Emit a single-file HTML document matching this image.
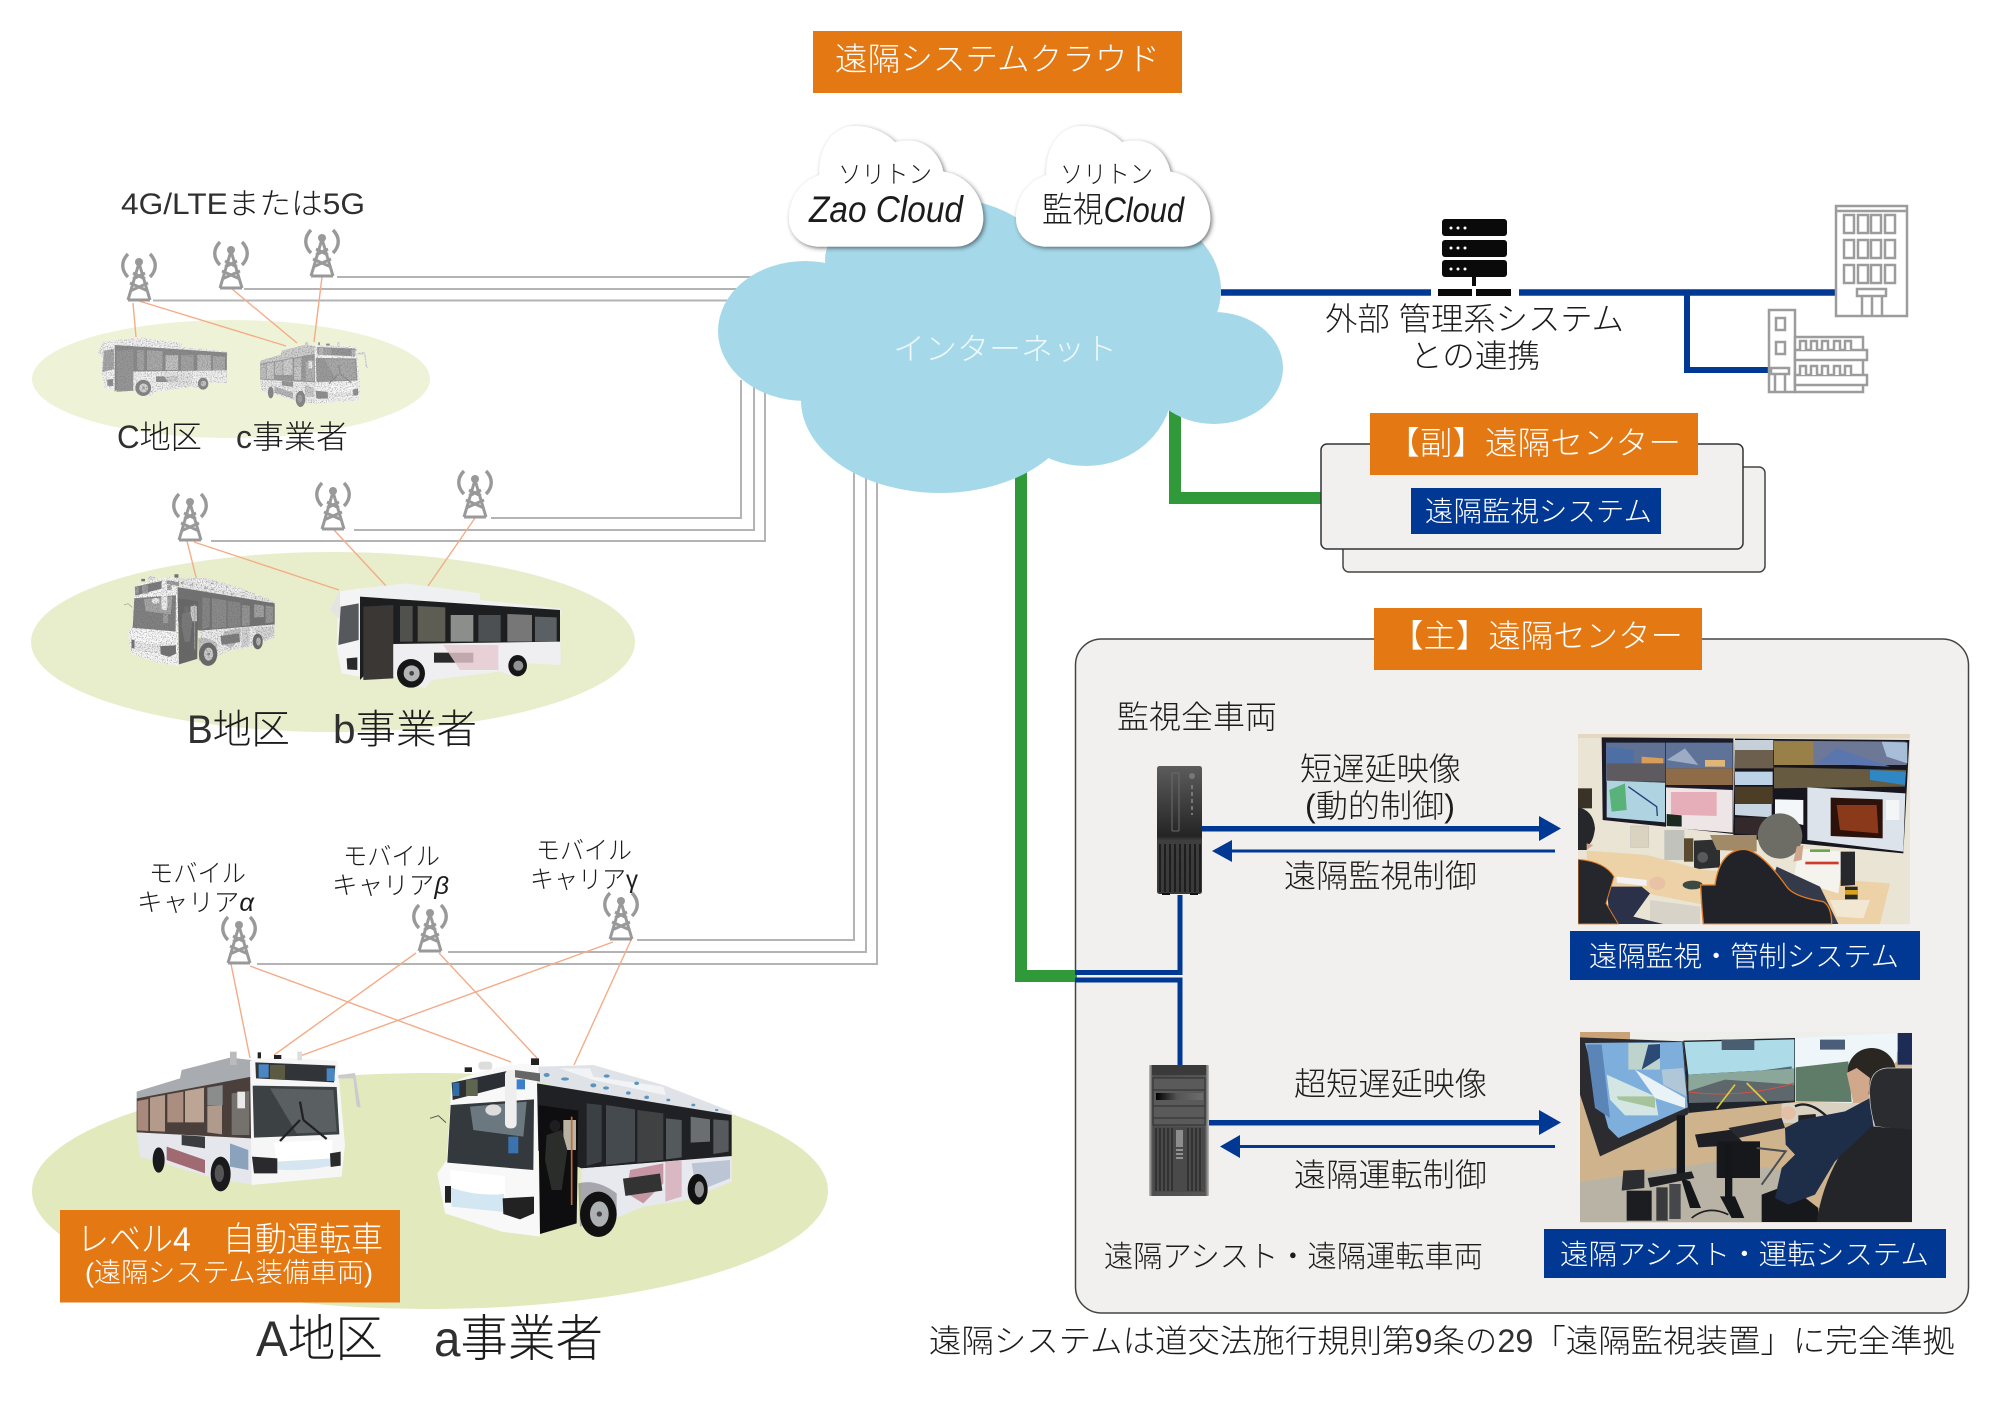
<!DOCTYPE html>
<html lang="ja"><head><meta charset="utf-8"><title>遠隔システム</title>
<style>
html,body{margin:0;padding:0;background:#fff}
svg{display:block}
text{font-family:"Liberation Sans","Noto Sans CJK JP",sans-serif;font-weight:300;fill:#1c1c1c}
.w{fill:#fff}
.l{fill:#303030}
</style></head><body>
<svg xmlns="http://www.w3.org/2000/svg" width="2000" height="1403" viewBox="0 0 2000 1403">
<defs>
<filter id="sh" x="-10%" y="-10%" width="125%" height="125%"><feDropShadow dx="5" dy="5" stdDeviation="6" flood-color="#333" flood-opacity=".65"/></filter>
<filter id="skB" x="0" y="0" width="100%" height="100%" color-interpolation-filters="sRGB">
<feColorMatrix in="SourceGraphic" type="saturate" values="0"/>
<feComponentTransfer result="g"><feFuncR type="linear" slope=".62" intercept=".37"/><feFuncG type="linear" slope=".62" intercept=".37"/><feFuncB type="linear" slope=".62" intercept=".37"/></feComponentTransfer>
<feTurbulence type="fractalNoise" baseFrequency=".8" numOctaves="2" seed="3"/>
<feColorMatrix type="matrix" values="0 0 0 0 .4 0 0 0 0 .4 0 0 0 0 .4 0 0 0 2 -.95"/>
<feComposite in2="SourceAlpha" operator="in" result="d"/>
<feMerge><feMergeNode in="g"/><feMergeNode in="d"/></feMerge>
</filter>
<filter id="skC" x="0" y="0" width="100%" height="100%" color-interpolation-filters="sRGB">
<feColorMatrix in="SourceGraphic" type="saturate" values="0"/>
<feComponentTransfer result="g"><feFuncR type="linear" slope=".5" intercept=".48"/><feFuncG type="linear" slope=".5" intercept=".48"/><feFuncB type="linear" slope=".5" intercept=".48"/></feComponentTransfer>
<feTurbulence type="fractalNoise" baseFrequency=".8" numOctaves="2" seed="7"/>
<feColorMatrix type="matrix" values="0 0 0 0 .45 0 0 0 0 .45 0 0 0 0 .45 0 0 0 2 -.95"/>
<feComposite in2="SourceAlpha" operator="in" result="d"/>
<feMerge><feMergeNode in="g"/><feMergeNode in="d"/></feMerge>
</filter>
<linearGradient id="pc1" x1="0" y1="0" x2="0" y2="1"><stop offset="0" stop-color="#5c5c5c"/><stop offset=".55" stop-color="#242424"/><stop offset=".58" stop-color="#3e3e3e"/><stop offset="1" stop-color="#3a3a3a"/></linearGradient>
<linearGradient id="pc2" x1="0" y1="0" x2="1" y2="0"><stop offset="0" stop-color="#bdbdbd"/><stop offset=".06" stop-color="#4e4e4e"/><stop offset=".94" stop-color="#565656"/><stop offset="1" stop-color="#bdbdbd"/></linearGradient>
<linearGradient id="drv" x1="0" y1="0" x2="1" y2="0"><stop offset="0" stop-color="#000"/><stop offset=".45" stop-color="#555"/><stop offset="1" stop-color="#6c6c6c"/></linearGradient>
<clipPath id="c1"><rect x="24" y="12" width="996" height="571"/></clipPath>
<clipPath id="c2"><rect x="15" y="12" width="996" height="571"/></clipPath>

<g id="ant" fill="none" stroke="#999" stroke-width="3">
<path d="M0 10L-11 47M0 10L11 47M-9 38L9 30M9 38L-9 30M-6 26L6 20M6 26L-6 20M-11 47L11 47" />
<circle cx="0" cy="9" r="4" fill="#999" stroke="none"/>
<path d="M-11 1C-18 8-18 17-11 24M11 1C18 8 18 17 11 24" stroke-width="3.400"/>
</g>

<path id="sc" d="M150 410H555C610 410 640 370 640 325C640 255 590 195 520 185C510 130 465 90 415 92C400 92 385 94 375 96C345 65 300 48 255 48C190 48 145 110 148 195C90 215 57 265 57 325C57 375 95 410 150 410Z" fill="#fff" filter="url(#sh)"/>

<g id="busA1">
<path d="M20 140L150 100L155 75L300 38L365 45V100L20 160Z" fill="#a8abaf"/>
<path d="M20 160L365 95V290L20 262Z" fill="#4a3f3a"/>
<path d="M22 168L55 162V258L22 256Z" fill="#a8897c"/><path d="M60 158L105 150V260L60 258Z" fill="#b49a8b"/><path d="M112 148L160 140V232L112 232Z" fill="#aa8f80"/><path d="M165 138L222 128V232L165 232Z" fill="#bda595"/><path d="M232 128L278 120V180L232 180Z" fill="#8a8d8c"/><path d="M232 182L276 180V268L232 262Z" fill="#b09a8c"/><path d="M305 145L358 138V270L305 270Z" fill="#75716c"/>
<path d="M20 262L365 280V418L255 400L30 335Z" fill="#e6e7ec"/>
<path d="M110 305L225 345V385L110 345Z" fill="#a06a72"/><path d="M300 295L355 315V375L300 365Z" fill="#8ba2bd"/><path d="M155 270L225 275V310L155 300Z" fill="#3a3c3e"/>
<path d="M360 48Q380 38 500 40L622 48L645 300L635 395L365 420Z" fill="#f6f6f6"/>
<path d="M376 52L616 62L612 112L378 100Z" fill="#31353a"/><rect x="386" y="58" width="30" height="40" fill="#4b86c4"/><rect x="590" y="70" width="24" height="38" fill="#4b86c4"/><rect x="420" y="60" width="45" height="42" fill="#5d5a44"/>
<path d="M368 122L620 126L628 268L372 278Z" fill="#3c4144"/><path d="M420 130L610 135L620 260L500 265Z" fill="#5a5f62"/>
<path d="M432 292L608 285L604 360Q520 380 442 374Z" fill="#fff"/><path d="M442 350L604 340L604 362Q520 380 442 374Z" fill="#d5e6f0"/>
<path d="M366 335L442 340V385L372 385Z" fill="#2a2a2c"/><path d="M600 325L632 320V362L602 366Z" fill="#2a2a2c"/>
<path d="M450 288L510 225M590 282L520 225M510 170L520 225" stroke="#222" stroke-width="7" fill="none"/>
<ellipse cx="272" cy="387" rx="30" ry="52" fill="#1a1a1c"/><ellipse cx="268" cy="385" rx="14" ry="26" fill="#555"/>
<ellipse cx="86" cy="345" rx="18" ry="38" fill="#1a1a1c"/>
<path d="M625 90L675 84L692 188L680 185L670 100L625 100Z" fill="#c9cbcd"/><path d="M322 140H345V190H322Z" fill="#e9e9e9"/>
<rect x="300" y="20" width="20" height="40" fill="#bbb"/><rect x="432" y="30" width="22" height="12" fill="#222"/><rect x="502" y="20" width="14" height="26" fill="#ddd"/><rect x="383" y="22" width="10" height="18" fill="#222"/>
</g>

<g id="busA2">
<path d="M325 50L490 45L700 105L905 185V205L450 135L325 95Z" fill="#dfe3e8"/>
<path d="M390 55H480L490 80L700 110L708 136L490 90Z" fill="#f1f3f5"/>
<g fill="#5c93bd"><ellipse cx="350" cy="75" rx="9" ry="6"/><ellipse cx="405" cy="87" rx="12" ry="5"/><ellipse cx="490" cy="106" rx="9" ry="6"/><ellipse cx="528" cy="114" rx="9" ry="5"/><ellipse cx="595" cy="129" rx="7" ry="5"/><ellipse cx="650" cy="142" rx="7" ry="5"/><ellipse cx="715" cy="150" rx="6" ry="4"/><ellipse cx="790" cy="165" rx="6" ry="4"/><ellipse cx="860" cy="180" rx="5" ry="3"/><ellipse cx="530" cy="78" rx="9" ry="5"/><ellipse cx="620" cy="100" rx="7" ry="5"/></g>
<path d="M320 100L905 195V320L455 355L320 300Z" fill="#1f2124"/>
<path d="M470 160L515 165V335L470 348Z" fill="#3a4044"/><path d="M528 165L615 178V335L528 345Z" fill="#444a4e"/><path d="M622 180L700 190V330L622 338Z" fill="#3f4143"/><path d="M708 205L755 210V322L708 328Z" fill="#54595b"/><path d="M782 200L840 208V275L782 278Z" fill="#6a6e70"/><path d="M850 208L896 212V305L850 312Z" fill="#565a5c"/>
<path d="M455 355L905 318V395L770 450L640 470L555 505L450 530Z" fill="#e8e9ee"/>
<path d="M600 360L700 340V400L640 460L590 430Z" fill="#c796a4"/><rect x="582" y="378" width="112" height="52" fill="#333" transform="rotate(-8 638 404)"/><path d="M706 335L755 330V440L706 455Z" fill="#d9b8c4"/><path d="M785 340L900 330V385L800 425Z" fill="#bcc5d4"/>
<path d="M65 98Q190 40 320 40L330 560L215 545L45 490L22 370L50 330Z" fill="#f8f8f8"/>
<path d="M65 98L245 60L240 105L68 150Z" fill="#2c3034"/><rect x="68" y="98" width="20" height="40" fill="#2f6ea8"/><rect x="108" y="88" width="35" height="50" fill="#5f6650"/><rect x="250" y="88" width="35" height="30" fill="#3d7ecb"/>
<path d="M62 165L312 148L310 360L52 338Z" fill="#34393d"/><path d="M120 170L290 155L280 260L130 240Z" fill="#6c7880"/><rect x="235" y="260" width="30" height="50" fill="#3a73b0"/><ellipse cx="190" cy="180" rx="24" ry="17" fill="#ddd"/>
<rect x="225" y="60" width="35" height="175" rx="14" fill="#eee"/><path d="M255 60L330 70V95L255 82Z" fill="#666"/>
<path d="M60 360L225 378V438Q140 490 65 455Z" fill="#fff"/><path d="M62 412Q140 440 222 432V486L65 470Z" fill="#d3e7f2"/>
<path d="M218 445L312 440V490L270 508L220 492Z" fill="#222"/><rect x="45" y="408" width="18" height="50" fill="#222"/>
<path d="M325 165L445 182L440 520L330 552Z" fill="#0e0e10"/><path d="M400 210H438V300H400Z" fill="#b9b2a2"/><path d="M350 255L395 240L412 300L395 420L365 420L345 330Z" fill="#2b2d2a"/><ellipse cx="375" cy="228" rx="16" ry="18" fill="#1e1e20"/><path d="M425 200V465" stroke="#c46a32" stroke-width="5"/>
<path d="M445 400Q500 385 560 430V500L450 530Z" fill="#2c2c30" opacity=".35"/>
<ellipse cx="505" cy="493" rx="55" ry="68" fill="#111"/><ellipse cx="508" cy="492" rx="28" ry="38" fill="#aeb1b3"/><circle cx="508" cy="492" r="8" fill="#444"/>
<ellipse cx="803" cy="418" rx="30" ry="46" fill="#111"/><ellipse cx="808" cy="418" rx="14" ry="24" fill="#8e9092"/>
<rect x="145" y="35" width="42" height="24" rx="10" fill="#ddd"/><rect x="303" y="25" width="24" height="20" fill="#222"/><rect x="104" y="52" width="22" height="14" fill="#222"/>
<path d="M0 205L25 197L48 218" stroke="#555" stroke-width="3" fill="none"/>
</g>

<g id="busB2">
<path d="M720 55L860 40L1080 70V90L1320 115L1325 135L720 85Z" fill="#eef0f1"/>
<path d="M720 80L1320 120V220L820 225L720 330Z" fill="#1d1e20"/>
<path d="M730 110L820 105V325L730 330Z" fill="#3b3735"/><path d="M840 108L878 108V215L840 215Z" fill="#50504c"/><path d="M893 108L976 112V215L893 215Z" fill="#5d5d54"/><path d="M992 135L1060 135V215L992 215Z" fill="#8c8e8c"/><path d="M1075 135L1142 135V215L1075 215Z" fill="#4c5052"/><path d="M1162 132L1236 135V215L1162 215Z" fill="#777"/><path d="M1245 140L1310 142V215L1245 215Z" fill="#5b6064"/>
<path d="M820 222L1322 215V285L1225 280L1190 320L1140 305L935 330L915 355L820 320Z" fill="#efeff1"/>
<rect x="942" y="248" width="118" height="30" fill="#2a2a2c"/><path d="M970 225H1135V300H1020Z" fill="#e6c9cf" opacity=".8"/>
<path d="M655 65L720 55V320L665 310L650 230Z" fill="#f4f4f4"/><path d="M662 110L716 100V210L655 225Z" fill="#56595c"/><path d="M680 265L712 262V300L682 298Z" fill="#2a2a2a"/>
<ellipse cx="873" cy="310" rx="42" ry="43" fill="#161616"/><circle cx="875" cy="310" r="24" fill="#b2b4b6"/><circle cx="875" cy="310" r="7" fill="#444"/>
<ellipse cx="1193" cy="287" rx="28" ry="32" fill="#161616"/><circle cx="1195" cy="287" r="15" fill="#909294"/>
<path d="M630 120L660 60V150Z" fill="#e4e4e4"/>
</g>
</defs>

<!-- ellipses -->
<ellipse cx="231" cy="379" rx="199" ry="59" fill="#eef3d8"/>
<ellipse cx="333" cy="642" rx="302" ry="90" fill="#e8eecb"/>
<ellipse cx="430" cy="1191" rx="398" ry="118" fill="#e1e9bd"/>

<!-- gray network lines -->
<g fill="none" stroke="#b4b4b4" stroke-width="2">
<path d="M337 277H780M244 289H780M153 300.500H780"/>
<path d="M491 518H741V380M354 530H754V380M211 541H765V380"/>
<path d="M637 940H854V440M448 952H866V440M257 964H877V440"/>
</g>

<!-- orange radio links -->
<g stroke="#f3ac88" stroke-width="1.400" fill="none">
<path d="M133 303L136 337M139 301L286 346M232 289L297 343M322 277L314 342"/>
<path d="M187 541L197 581M194 542L339 590M334 530L388 588M475 518L428 586"/>
<path d="M231 964L250 1058M250 966L511 1062M416 953L274 1055M613 942L300 1056M439 953L537 1058M631 940L574 1065"/>
</g>

<!-- antennas -->
<use href="#ant" x="139" y="253"/><use href="#ant" x="231" y="241"/><use href="#ant" x="322" y="229"/>
<use href="#ant" x="190" y="493"/><use href="#ant" x="333" y="482"/><use href="#ant" x="475" y="470"/>
<use href="#ant" x="239" y="916"/><use href="#ant" x="430" y="904"/><use href="#ant" x="621" y="892"/>

<!-- green lines -->
<path d="M1175 410V498H1321" fill="none" stroke="#309a3b" stroke-width="12"/>
<path d="M1021 470V976H1080" fill="none" stroke="#309a3b" stroke-width="12"/>

<!-- big cloud -->
<g fill="#a5d9ea">
<ellipse cx="805" cy="331" rx="87" ry="70"/>
<ellipse cx="935" cy="260" rx="110" ry="63"/>
<ellipse cx="1096" cy="290" rx="125" ry="91"/>
<ellipse cx="1214" cy="368" rx="69" ry="56"/>
<ellipse cx="940" cy="400" rx="139" ry="93"/>
<ellipse cx="1086" cy="385" rx="87" ry="81"/>
<rect x="850" y="260" width="300" height="150"/>
</g>
<text class="w" x="893" y="360" font-size="31" textLength="224" lengthAdjust="spacingAndGlyphs" style="fill:#eef8fb">インターネット</text>

<!-- small clouds -->
<use href="#sc" transform="translate(770 110) scale(.33333)"/>
<use href="#sc" transform="translate(997 110) scale(.33333)"/>
<text x="838" y="183" font-size="25" textLength="94" lengthAdjust="spacingAndGlyphs">ソリトン</text>
<text x="1060" y="183" font-size="25" textLength="93" lengthAdjust="spacingAndGlyphs">ソリトン</text>
<text x="809" y="222" font-size="37" font-style="italic" textLength="154" lengthAdjust="spacingAndGlyphs">Zao Cloud</text>
<text x="1042" y="222" font-size="35" textLength="142" lengthAdjust="spacingAndGlyphs">監視<tspan font-style="italic">Cloud</tspan></text>

<!-- header -->
<rect x="813" y="31" width="369" height="62" fill="#e47813"/>
<text class="w" x="835" y="70" font-size="32" textLength="325" lengthAdjust="spacingAndGlyphs">遠隔システムクラウド</text>

<!-- blue external line -->
<path d="M1221 292.500H1431M1519 292.500H1836" stroke="#003893" stroke-width="6.500" fill="none"/>
<path d="M1687 292V370H1770" stroke="#003893" stroke-width="6" fill="none"/>
<g fill="#0a0a0a">
<rect x="1442" y="219" width="65" height="17" rx="3"/><rect x="1442" y="240" width="65" height="17" rx="3"/><rect x="1442" y="260" width="65" height="17" rx="3"/>
<rect x="1472" y="277" width="4" height="9"/><rect x="1438" y="289" width="34" height="7"/><rect x="1476" y="289" width="35" height="7"/>
</g>
<g fill="#fff"><circle cx="1451" cy="228" r="1.500"/><circle cx="1458" cy="228" r="1.500"/><circle cx="1465" cy="228" r="1.500"/><circle cx="1451" cy="248" r="1.500"/><circle cx="1458" cy="248" r="1.500"/><circle cx="1465" cy="248" r="1.500"/><circle cx="1451" cy="269" r="1.500"/><circle cx="1458" cy="269" r="1.500"/><circle cx="1465" cy="269" r="1.500"/></g>
<text x="1325" y="330" font-size="32" textLength="299" lengthAdjust="spacingAndGlyphs">外部 管理系システム</text>
<text x="1410" y="367" font-size="32" textLength="130" lengthAdjust="spacingAndGlyphs">との連携</text>

<!-- buildings -->
<g fill="#fff" stroke="#9c9c9c" stroke-width="2.500">
<rect x="1836" y="206" width="71" height="110"/>
<path d="M1836 211H1907" />
<rect x="1844" y="215" width="10" height="18"/><rect x="1858" y="215" width="10" height="18"/><rect x="1871" y="215" width="10" height="18"/><rect x="1885" y="215" width="10" height="18"/>
<rect x="1844" y="240" width="10" height="18"/><rect x="1858" y="240" width="10" height="18"/><rect x="1871" y="240" width="10" height="18"/><rect x="1885" y="240" width="10" height="18"/>
<rect x="1844" y="265" width="10" height="18"/><rect x="1858" y="265" width="10" height="18"/><rect x="1871" y="265" width="10" height="18"/><rect x="1885" y="265" width="10" height="18"/>
<rect x="1857" y="289" width="29" height="7"/><path d="M1862 296V316M1872 296V316M1882 296V316"/>
<rect x="1769" y="310" width="26" height="82"/>
<rect x="1776" y="318" width="9" height="12"/><rect x="1776" y="342" width="9" height="12"/>
<rect x="1795" y="337" width="68" height="55"/><rect x="1795" y="350" width="72" height="10"/><rect x="1795" y="375" width="72" height="10"/>
<path d="M1800 350V341H1806V350M1811 350V341H1817V350M1822 350V341H1828V350M1834 350V341H1840V350M1845 350V341H1851V350M1800 375V366H1806V375M1811 375V366H1817V375M1822 375V366H1828V375M1834 375V366H1840V375M1845 375V366H1851V375"/>
<rect x="1771" y="368" width="18" height="6"/><path d="M1775 374V392M1785 374V392"/>
</g>

<!-- sub centre -->
<rect x="1343" y="467" width="422" height="105" rx="6" fill="#f1f0ee" stroke="#444" stroke-width="1.500"/>
<rect x="1321" y="444" width="422" height="105" rx="6" fill="#f1f0ee" stroke="#333" stroke-width="1.500"/>
<rect x="1370" y="413" width="328" height="62" fill="#e47813"/>
<text class="w" x="1387" y="454" font-size="32" textLength="294" lengthAdjust="spacingAndGlyphs">【副】遠隔センター</text>
<rect x="1411" y="488" width="250" height="46" fill="#003893"/>
<text class="w" x="1425" y="521" font-size="28" textLength="227" lengthAdjust="spacingAndGlyphs">遠隔監視システム</text>

<!-- main centre -->
<rect x="1075.500" y="639" width="893" height="674" rx="26" fill="#f1f0ee" stroke="#444" stroke-width="1.500"/>
<rect x="1069" y="970" width="8" height="12" fill="#309a3b"/>
<path d="M1075 972.500H1180V895M1075 980H1180V1066" fill="none" stroke="#003893" stroke-width="5"/>
<rect x="1374" y="608" width="328" height="62" fill="#e47813"/>
<text class="w" x="1391" y="647" font-size="32" textLength="292" lengthAdjust="spacingAndGlyphs">【主】遠隔センター</text>

<text x="1117" y="728" font-size="32" textLength="160" lengthAdjust="spacingAndGlyphs">監視全車両</text>
<text x="1300" y="780" font-size="32" textLength="161" lengthAdjust="spacingAndGlyphs">短遅延映像</text>
<text x="1305" y="817" font-size="32" textLength="150" lengthAdjust="spacingAndGlyphs">(動的制御)</text>
<text x="1284" y="887" font-size="32" textLength="193" lengthAdjust="spacingAndGlyphs">遠隔監視制御</text>
<text x="1294" y="1095" font-size="32" textLength="193" lengthAdjust="spacingAndGlyphs">超短遅延映像</text>
<text x="1294" y="1186" font-size="32" textLength="193" lengthAdjust="spacingAndGlyphs">遠隔運転制御</text>
<text x="1104" y="1267" font-size="30" textLength="379" lengthAdjust="spacingAndGlyphs">遠隔アシスト・遠隔運転車両</text>

<!-- arrows -->
<g fill="#003893">
<rect x="1201" y="826" width="340" height="5.500"/><path d="M1539 816L1561 828.500L1539 841Z"/>
<rect x="1230" y="849.500" width="325" height="3"/><path d="M1232 840L1212 851L1232 862Z"/>
<rect x="1209" y="1120" width="332" height="5.500"/><path d="M1539 1110L1561 1122.500L1539 1135Z"/>
<rect x="1238" y="1145" width="317" height="3"/><path d="M1240 1135L1220 1146.500L1240 1158Z"/>
</g>

<!-- PC 1 -->
<rect x="1157" y="766" width="45" height="128" rx="2.500" fill="url(#pc1)"/>
<path d="M1160 844V892M1165 844V892M1170 844V892M1175 844V892M1180 844V892M1185 844V892M1190 844V892M1195 844V892M1200 844V892" stroke="#1b1b1b" stroke-width="1.800"/>
<rect x="1172" y="773" width="7" height="58" rx="1" fill="none" stroke="#6a6a6a"/>
<circle cx="1192" cy="776" r="3" fill="#777"/><path d="M1192 785V815" stroke="#777" stroke-width="2" stroke-dasharray="4 3"/>
<rect x="1162" y="893" width="8" height="2" fill="#111"/><rect x="1190" y="893" width="8" height="2" fill="#111"/>
<!-- PC 2 -->
<rect x="1149" y="1065" width="60" height="131" rx="1" fill="url(#pc2)"/>
<rect x="1152" y="1065" width="54" height="10" fill="#3a3a3a"/>
<rect x="1153" y="1078" width="52" height="47" fill="#5a5a5a" stroke="#2e2e2e"/>
<path d="M1153 1090H1205M1153 1106H1205M1153 1118H1205" stroke="#2e2e2e" stroke-width="1"/>
<rect x="1156" y="1093" width="47" height="7" fill="url(#drv)"/>
<rect x="1153" y="1127" width="52" height="65" fill="#4a4a4a"/>
<path d="M1156 1128V1191M1160 1128V1191M1164 1128V1191M1168 1128V1191M1172 1128V1191M1188 1128V1191M1192 1128V1191M1196 1128V1191M1200 1128V1191" stroke="#2b2b2b" stroke-width="1.500"/>
<rect x="1176" y="1130" width="7" height="17" fill="#8d8d8d"/><path d="M1176 1150H1183M1176 1154H1183M1176 1158H1183" stroke="#aaa" stroke-width="1.500"/>

<!-- photo 1 -->
<g transform="translate(1570 730) scale(.33333)" clip-path="url(#c1)">
<rect x="24" y="12" width="996" height="571" fill="#e9e4d4"/>
<rect x="24" y="12" width="996" height="12" fill="#e4d8c0"/>
<rect x="24" y="175" width="42" height="60" fill="#3a3226"/>
<path d="M95 22L490 25V312L98 270Z" fill="#1b1a26"/>
<path d="M108 38H285V155H108Z" fill="#5f7296"/><path d="M110 50L192 60L190 100L110 100Z" fill="#4e6ea6"/><path d="M215 80L280 85L280 105L215 105Z" fill="#d89d58"/><path d="M110 100H285V155H110Z" fill="#5d5a60"/>
<path d="M287 38H488V115H287Z" fill="#5f7398"/><path d="M290 90L345 55L385 105Z" fill="#9dacc4"/><rect x="405" y="90" width="60" height="20" fill="#dfb677"/>
<path d="M287 115H488V165H287Z" fill="#8f6c48"/>
<path d="M110 152L285 158V277L110 262Z" fill="#afd3e0"/><path d="M118 180L165 160L170 240L125 245Z" fill="#58b27a"/><path d="M175 170L260 230L262 258" stroke="#26407c" stroke-width="4" fill="none"/>
<path d="M288 172L488 180V308L288 292Z" fill="#eee6e6"/><path d="M303 186H440V258L303 254Z" fill="#e6aeb8"/><path d="M290 252L335 256V290L290 288Z" fill="#1b2b1f"/>
<path d="M495 26L1018 30L1000 370L490 322Z" fill="#17161f"/>
<path d="M495 30H610V115H495Z" fill="#6d5f4e"/><path d="M495 30H610V60L495 60Z" fill="#c5d0da"/>
<path d="M612 32L1012 35L1010 105L612 105Z" fill="#6d7896"/><path d="M612 35H730V105H612Z" fill="#998049"/><path d="M740 100L800 55L960 110Z" fill="#5b76ae"/><path d="M935 35L1012 38V100L950 80Z" fill="#a8bdd7"/>
<path d="M612 112L1008 120L1005 170L612 175Z" fill="#665a40"/><path d="M900 120L1008 125L1005 165L900 150Z" fill="#2f87c4"/>
<path d="M495 125H608V165H495Z" fill="#bcd2e6"/><path d="M495 170H608V222H495Z" fill="#4c3e26"/><path d="M495 222H605V262L495 255Z" fill="#c8d6e4"/><path d="M495 262H590V318L495 310Z" fill="#33282a"/>
<path d="M615 208L700 210V285L615 265Z" fill="#f4f7f9"/>
<path d="M712 172L1006 190L1000 365L712 330Z" fill="#dde3ea"/><path d="M782 203L938 208V325L782 318Z" fill="#2c120a"/><path d="M800 225L920 225L925 310L810 300Z" fill="#8a3a1a"/>
<rect x="948" y="210" width="40" height="60" fill="#f3f5f7"/>
<rect x="182" y="288" width="54" height="64" fill="#d9d3bf" stroke="#aaa"/>
<rect x="283" y="300" width="60" height="90" fill="#c2c2bc"/>
<rect x="342" y="325" width="28" height="70" fill="#5b4a30"/>
<path d="M372 332L450 328V412L372 418Z" fill="#2e2f31"/><circle cx="398" cy="382" r="16" fill="#5a5a5c"/>
<path d="M420 315H560V365L440 360Z" fill="#a08a68"/>
<path d="M50 362L230 375L400 420L960 460L930 582L770 582L380 520L130 470L50 440Z" fill="#ecd2a6"/>
<path d="M240 510L390 530V582H240Z" fill="#d7d3c8"/><path d="M780 510L900 510L880 565L800 560Z" fill="#f1e7d2"/>
<path d="M140 440L230 450L230 468L140 458Z" fill="#f2f2f2"/><ellipse cx="368" cy="465" rx="30" ry="13" fill="#3d4a44"/>
<path d="M688 355L822 365L805 490L670 450Z" fill="#f5f3ee"/><rect x="706" y="395" width="100" height="8" fill="#cf3a2c"/><rect x="720" y="358" width="60" height="8" fill="#6ea64e"/>
<path d="M812 365L855 365V465L812 468Z" fill="#26282c"/><rect x="825" y="470" width="38" height="38" fill="#2a2a24"/><rect x="825" y="480" width="38" height="14" fill="#d9a21b"/>
<ellipse cx="630" cy="318" rx="67" ry="68" fill="#6d6d66"/><path d="M680 350L700 345L695 390L670 395Z" fill="#cfa78f"/>
<path d="M620 410L750 470L805 582H560Z" fill="#343a4a"/>
<path d="M392 465L435 465Q450 358 525 358Q575 365 650 470Q670 500 760 515Q785 530 785 582H400Q395 530 392 465Z" fill="#212328" stroke="#e07a26" stroke-width="4"/>
<path d="M110 470L215 470L240 490L190 560L280 582H120Z" fill="#2a3148"/><ellipse cx="262" cy="460" rx="24" ry="20" fill="#e9c2a5"/>
<path d="M24 232Q70 240 75 295Q70 335 55 345L50 360H24Z" fill="#26272b"/><path d="M50 340L70 345L50 360Z" fill="#cfa78f"/>
<path d="M24 388Q105 395 132 440L108 520L145 582H24Z" fill="#25272c" stroke="#dd7a26" stroke-width="3"/>
</g>

<!-- photo 2 -->
<g transform="translate(1575 1028) scale(.33333)" clip-path="url(#c2)">
<rect x="15" y="12" width="996" height="571" fill="#cfb38d"/>
<rect x="15" y="12" width="996" height="60" fill="#eeeeea"/><rect x="15" y="12" width="150" height="30" fill="#c9a278"/>
<path d="M15 462L330 415L420 400L620 425V582H15Z" fill="#b9b3a6"/>
<rect x="620" y="225" width="400" height="60" fill="#d9d2c0"/>
<path d="M15 28L325 40L340 258L260 300L75 385L15 200Z" fill="#2c2c30"/>
<path d="M30 45L322 42L338 238L130 330L100 300Z" fill="#7eaedb"/>
<path d="M160 45H255V125H160Z" fill="#bdd3cc"/><path d="M220 50L255 48V90L200 125Z" fill="#2c4a76"/><path d="M95 140L240 205L250 262L150 262L105 215Z" fill="#d3e6e4"/><path d="M125 205H240V240L130 215Z" fill="#a6c49b"/><path d="M180 125L330 210L330 240L240 210Z" fill="#e9f2f6"/><path d="M260 125L325 120L335 205L265 170Z" fill="#b0c7d7"/><path d="M35 50L80 50L105 270L60 240Z" fill="#5b85b7"/>
<path d="M325 38L660 30V222L340 255Z" fill="#20242c"/>
<path d="M328 42L658 34V122L340 140Z" fill="#aedbe8"/><path d="M360 155L650 115V150L360 165Z" fill="#556878"/><path d="M340 190L450 155L620 150L658 170V218L342 225Z" fill="#5d676c"/><path d="M340 140L658 122V170L450 155L340 190Z" fill="#8aa79a"/>
<path d="M440 35H538V66H440Z" fill="#4a5e72"/>
<path d="M342 192Q500 212 658 165" stroke="#d95040" stroke-width="3" fill="none"/><path d="M425 242L480 170M575 225L515 165" stroke="#dfc93a" stroke-width="5"/>
<path d="M660 30L968 15L965 100L830 225L660 222Z" fill="#eef6fa"/><path d="M662 118L820 100L830 222L662 220Z" fill="#5f7c68"/><path d="M735 35H810V65H735Z" fill="#4a5d7a"/>
<rect x="968" y="15" width="44" height="95" fill="#1c2c55"/>
<rect x="305" y="262" width="25" height="190" fill="#15161a"/>
<path d="M360 320L470 305L510 350L370 358Z" fill="#1d1f25"/><path d="M460 300L620 270L630 300L490 330Z" fill="#272a33"/>
<rect x="425" y="340" width="130" height="110" fill="#17181c"/><path d="M450 350H472V510H450Z" fill="#15161a"/><path d="M435 505H480L508 570H470Z" fill="#15161a"/>
<path d="M318 450L345 540H378L345 460Z" fill="#15161a"/>
<path d="M145 428L208 425V480L140 488Z" fill="#2c2d30"/><path d="M218 450L350 430L358 450L225 478Z" fill="#1f2024"/>
<rect x="155" y="488" width="75" height="90" fill="#1c1d20"/><rect x="244" y="478" width="34" height="100" fill="#393b3d"/><rect x="283" y="468" width="34" height="105" fill="#45474a"/>
<path d="M350 570Q400 530 460 560" stroke="#222" stroke-width="5" fill="none"/>
<path d="M660 235Q700 215 755 265" stroke="#1f2024" stroke-width="7" fill="none"/><path d="M670 262L722 258L725 300L670 300Z" fill="#222"/>
<ellipse cx="640" cy="255" rx="22" ry="20" fill="#e2bfa5"/>
<path d="M545 360L632 370L560 470" stroke="#4a4e55" stroke-width="6" fill="none"/>
<path d="M560 500L640 470L730 540V582H560Z" fill="#17181c"/>
<path d="M630 300L680 275L810 250L885 210L895 295L780 400L720 500L640 530L600 510L620 420L660 380L632 350Z" fill="#1e2d48"/>
<ellipse cx="890" cy="130" rx="72" ry="70" fill="#2a2622"/><path d="M815 135L845 120L885 150L880 210L835 225Z" fill="#d2a88d"/>
<path d="M884 200Q880 125 935 120H1012V310L900 295Q885 250 884 200Z" fill="#2a2c30" stroke="#d3d4d0" stroke-width="2"/>
<path d="M890 295L1012 305V582H725Q740 480 790 390Z" fill="#232528"/>
</g>

<!-- system labels -->
<rect x="1570" y="931" width="350" height="49" fill="#003893"/>
<text class="w" x="1589" y="966" font-size="28" textLength="310" lengthAdjust="spacingAndGlyphs">遠隔監視・管制システム</text>
<rect x="1544" y="1229" width="402" height="49" fill="#003893"/>
<text class="w" x="1560" y="1264" font-size="28" textLength="369" lengthAdjust="spacingAndGlyphs">遠隔アシスト・運転システム</text>

<text x="929" y="1352" font-size="32" textLength="1026" lengthAdjust="spacingAndGlyphs">遠隔システムは道交法施行規則第<tspan class="l">9</tspan>条の<tspan class="l">29</tspan>「遠隔監視装置」に完全準拠</text>

<!-- left labels -->
<text x="121" y="214" font-size="30" textLength="244" lengthAdjust="spacingAndGlyphs"><tspan class="l">4G/LTE</tspan>または<tspan class="l">5G</tspan></text>
<text x="117" y="448" font-size="32" textLength="85" lengthAdjust="spacingAndGlyphs"><tspan class="l">C</tspan>地区</text>
<text x="236" y="448" font-size="32" textLength="112" lengthAdjust="spacingAndGlyphs"><tspan class="l">c</tspan>事業者</text>
<text x="187" y="743" font-size="40" textLength="103" lengthAdjust="spacingAndGlyphs"><tspan class="l">B</tspan>地区</text>
<text x="333" y="743" font-size="40" textLength="144" lengthAdjust="spacingAndGlyphs"><tspan class="l">b</tspan>事業者</text>
<text x="256" y="1356" font-size="50" textLength="127" lengthAdjust="spacingAndGlyphs"><tspan class="l">A</tspan>地区</text>
<text x="434" y="1356" font-size="50" textLength="169" lengthAdjust="spacingAndGlyphs"><tspan class="l">a</tspan>事業者</text>
<text x="149" y="882" font-size="25" textLength="97" lengthAdjust="spacingAndGlyphs">モバイル</text>
<text x="137" y="911" font-size="25" textLength="117" lengthAdjust="spacingAndGlyphs">キャリア<tspan font-style="italic">α</tspan></text>
<text x="343" y="865" font-size="25" textLength="97" lengthAdjust="spacingAndGlyphs">モバイル</text>
<text x="332" y="894" font-size="25" textLength="117" lengthAdjust="spacingAndGlyphs">キャリア<tspan font-style="italic">β</tspan></text>
<text x="536" y="859" font-size="25" textLength="96" lengthAdjust="spacingAndGlyphs">モバイル</text>
<text x="530" y="888" font-size="25" textLength="108" lengthAdjust="spacingAndGlyphs">キャリアγ</text>

<!-- buses -->
<use href="#busA1" transform="translate(130 1045) scale(.33333)"/>
<use href="#busA2" transform="translate(430 1050) scale(.33333)"/>
<use href="#busB2" transform="translate(120 570) scale(.33333)"/>
<g filter="url(#skB)">
<use href="#busA2" transform="translate(124 570) scale(.1665 .171)"/>
</g>
<g filter="url(#skC)">
<use href="#busA1" transform="translate(257 339) scale(.16 .155)"/>
<use href="#busB2" transform="translate(-20 330) scale(.187 .187)"/>
</g>

<!-- level 4 label -->
<rect x="60" y="1210" width="340" height="92.500" fill="#e47813"/>
<text class="w" x="77" y="1251" font-size="34" textLength="306" lengthAdjust="spacingAndGlyphs">レベル4　自動運転車</text>
<text class="w" x="85" y="1282" font-size="27" textLength="288" lengthAdjust="spacingAndGlyphs">(遠隔システム装備車両)</text>
</svg>
</body></html>
